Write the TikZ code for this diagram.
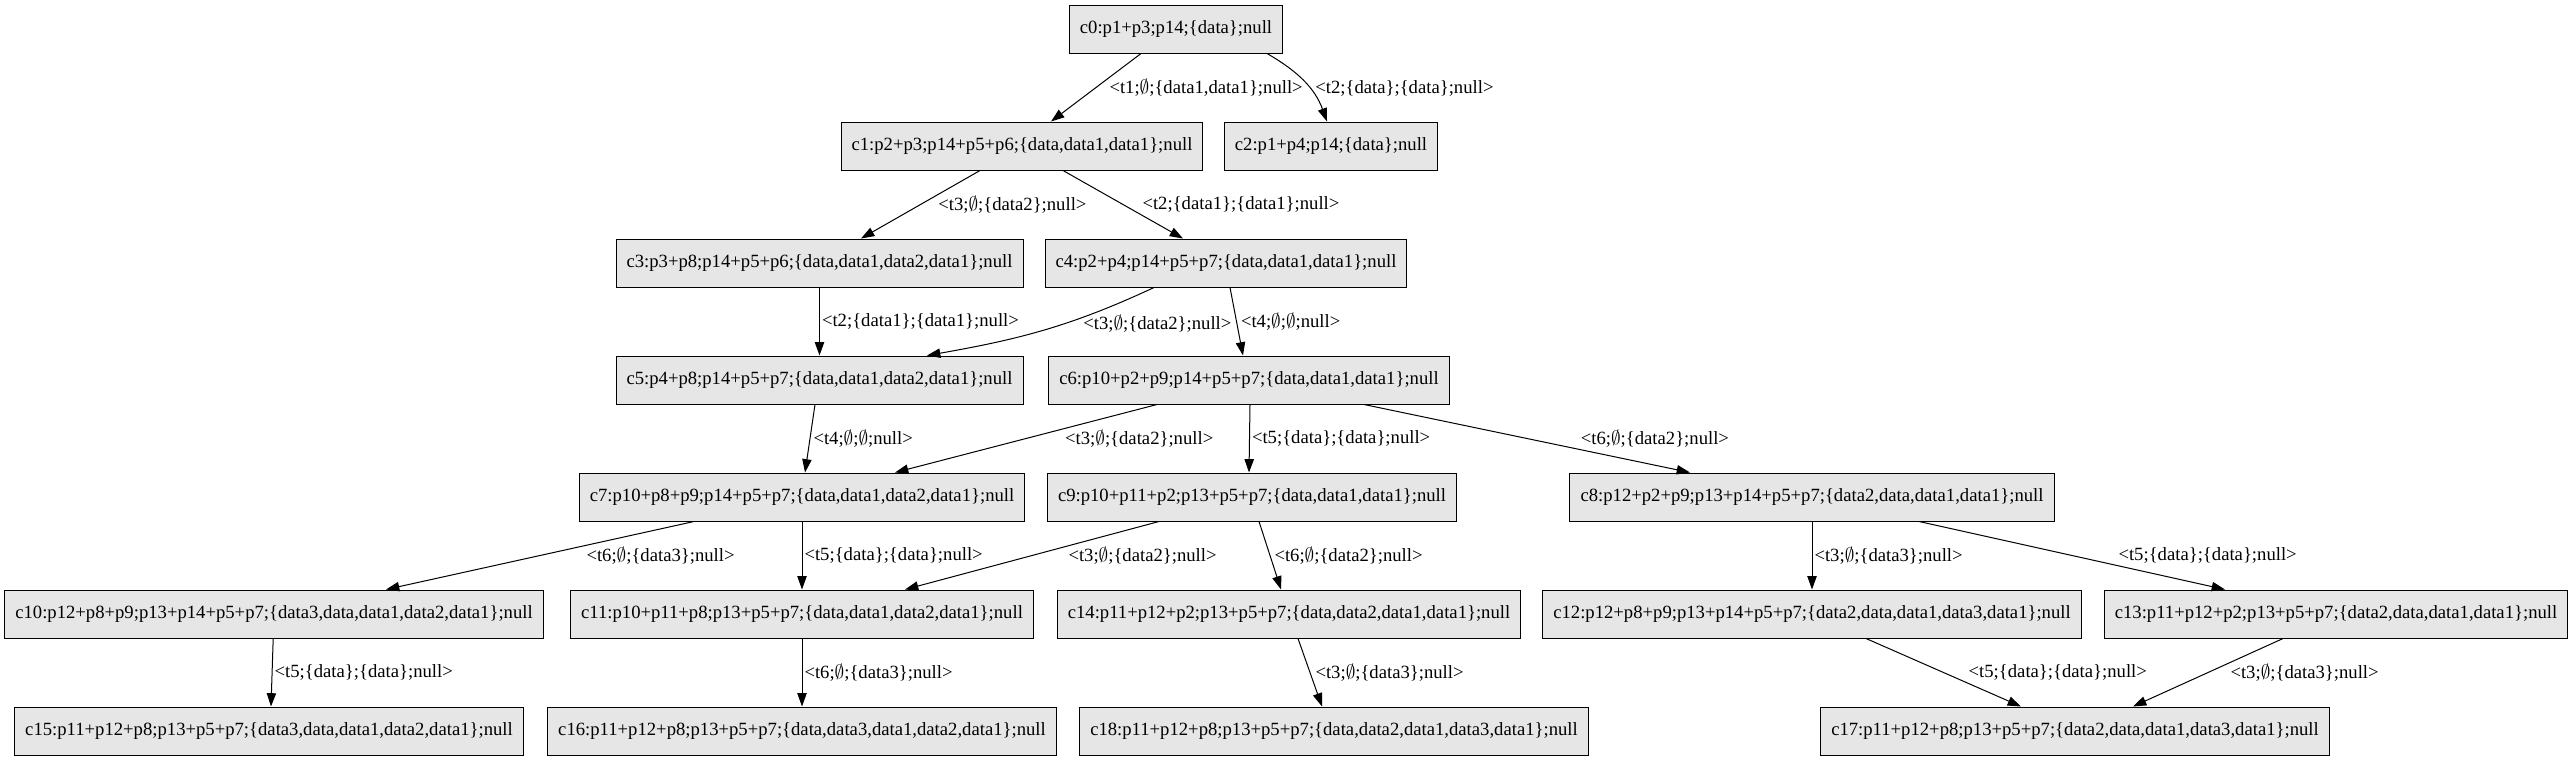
\documentclass[tikz,border=0pt]{standalone}
\usepackage{fontspec}
\setmainfont{Liberation Serif}
\usepackage{tikz}
\usetikzlibrary{arrows.meta,calc,positioning}
\definecolor{cfgfill}{RGB}{230,230,230}
\newcommand{\es}{$\emptyset$}
\tikzset{
  cfgbox/.style={rectangle,draw=black,line width=0.75pt,fill=cfgfill,
    minimum height=36pt,inner xsep=7.9pt,inner ysep=0pt,
    font=\fontsize{14}{16}\selectfont},
  firing/.style={-{Triangle[length=10pt,width=7pt]},line width=0.75pt,black},
  firelabel/.style={font=\fontsize{14}{16}\selectfont,inner sep=0pt}
}
\begin{document}
\begin{tikzpicture}[x=0.75pt,y=-0.75pt]
  \useasboundingbox (0,0) rectangle (2573,761);
  \node[cfgbox] (c0) at (1176,29) {c0:p1+p3;p14;\{data\};null};
  \node[cfgbox] (c1) at (1022,146) {c1:p2+p3;p14+p5+p6;\{data,data1,data1\};null};
  \node[cfgbox] (c2) at (1331,146) {c2:p1+p4;p14;\{data\};null};
  \node[cfgbox] (c3) at (819.5,263) {c3:p3+p8;p14+p5+p6;\{data,data1,data2,data1\};null};
  \node[cfgbox] (c4) at (1226,263) {c4:p2+p4;p14+p5+p7;\{data,data1,data1\};null};
  \node[cfgbox] (c5) at (819.5,380) {c5:p4+p8;p14+p5+p7;\{data,data1,data2,data1\};null};
  \node[cfgbox] (c6) at (1249,380) {c6:p10+p2+p9;p14+p5+p7;\{data,data1,data1\};null};
  \node[cfgbox] (c7) at (802,497) {c7:p10+p8+p9;p14+p5+p7;\{data,data1,data2,data1\};null};
  \node[cfgbox] (c9) at (1252,497) {c9:p10+p11+p2;p13+p5+p7;\{data,data1,data1\};null};
  \node[cfgbox] (c8) at (1812,497) {c8:p12+p2+p9;p13+p14+p5+p7;\{data2,data,data1,data1\};null};
  \node[cfgbox] (c10) at (274,614) {c10:p12+p8+p9;p13+p14+p5+p7;\{data3,data,data1,data2,data1\};null};
  \node[cfgbox] (c11) at (802,614) {c11:p10+p11+p8;p13+p5+p7;\{data,data1,data2,data1\};null};
  \node[cfgbox] (c14) at (1289,614) {c14:p11+p12+p2;p13+p5+p7;\{data,data2,data1,data1\};null};
  \node[cfgbox] (c12) at (1812,614) {c12:p12+p8+p9;p13+p14+p5+p7;\{data2,data,data1,data3,data1\};null};
  \node[cfgbox] (c13) at (2336,614) {c13:p11+p12+p2;p13+p5+p7;\{data2,data,data1,data1\};null};
  \node[cfgbox] (c15) at (269,731) {c15:p11+p12+p8;p13+p5+p7;\{data3,data,data1,data2,data1\};null};
  \node[cfgbox] (c16) at (802,731) {c16:p11+p12+p8;p13+p5+p7;\{data,data3,data1,data2,data1\};null};
  \node[cfgbox] (c18) at (1334,731) {c18:p11+p12+p8;p13+p5+p7;\{data,data2,data1,data3,data1\};null};
  \node[cfgbox] (c17) at (2075,731) {c17:p11+p12+p8;p13+p5+p7;\{data2,data,data1,data3,data1\};null};

  \draw[firing] ($(c0.south)+(-35,0)$) -- node[firelabel,right=9.75pt] {<t1;\es;\{data1,data1\};null>} ($(c1.north)+(29,0)$);
  \draw[firing] ($(c0.south)+(91,0)$) to[out=-30,in=110] node[firelabel,pos=0.6,right=4pt] {<t2;\{data\};\{data\};null>} ($(c2.north)+(-4,0)$);
  \draw[firing] ($(c1.south)+(-42,0)$) -- node[firelabel,right=13pt] {<t3;\es;\{data2\};null>} ($(c3.north)+(41.5,0)$);
  \draw[firing] ($(c1.south)+(41,0)$) -- node[firelabel,right=14.25pt] {<t2;\{data1\};\{data1\};null>} ($(c4.north)+(-43,0)$);
  \draw[firing] (c3) -- node[firelabel,right=1.5pt] {<t2;\{data1\};\{data1\};null>} (c5);
  \draw[firing] ($(c4.south)+(-72,0)$) to[out=205,in=10] node[firelabel,pos=0.4,right=14pt] {<t3;\es;\{data2\};null>} ($(c5.north)+(107.5,0)$);
  \draw[firing] ($(c4.south)+(4,0)$) -- node[firelabel,right=3pt] {<t4;\es;\es;null>} ($(c6.north)+(-6,0)$);
  \draw[firing] ($(c5.south)+(-4.5,0)$) -- node[firelabel,right=2.25pt] {<t4;\es;\es;null>} ($(c7.north)+(3,0)$);
  \draw[firing] ($(c6.south)+(-92,0)$) -- node[firelabel,right=29pt] {<t3;\es;\{data2\};null>} ($(c7.north)+(93,0)$);
  \draw[firing] ($(c6.south)+(1,0)$) -- node[firelabel,right=1.5pt] {<t5;\{data\};\{data\};null>} ($(c9.north)+(-3,0)$);
  \draw[firing] ($(c6.south)+(115,0)$) -- node[firelabel,right=40pt] {<t6;\es;\{data2\};null>} ($(c8.north)+(-122,0)$);
  \draw[firing] ($(c7.south)+(-108,0)$) -- node[firelabel,right=34.5pt] {<t6;\es;\{data3\};null>} ($(c10.north)+(112,0)$);
  \draw[firing] (c7) -- node[firelabel,right=1.5pt] {<t5;\{data\};\{data\};null>} (c11);
  \draw[firing] ($(c9.south)+(-93,0)$) -- node[firelabel,right=27pt] {<t3;\es;\{data2\};null>} ($(c11.north)+(103,0)$);
  \draw[firing] ($(c9.south)+(7,0)$) -- node[firelabel,right=3pt] {<t6;\es;\{data2\};null>} ($(c14.north)+(-8,0)$);
  \draw[firing] (c8) -- node[firelabel,right=1.5pt] {<t3;\es;\{data3\};null>} (c12);
  \draw[firing] ($(c8.south)+(107,0)$) -- node[firelabel,right=34.5pt] {<t5;\{data\};\{data\};null>} ($(c13.north)+(-111,0)$);
  \draw[firing] (c10) -- node[firelabel,right=1.5pt] {<t5;\{data\};\{data\};null>} ($(c15.north)+(2,0)$);
  \draw[firing] (c11) -- node[firelabel,right=1.5pt] {<t6;\es;\{data3\};null>} (c16);
  \draw[firing] ($(c14.south)+(9,0)$) -- node[firelabel,right=3.75pt] {<t3;\es;\{data3\};null>} ($(c18.north)+(-12,0)$);
  \draw[firing] ($(c12.south)+(54,0)$) -- node[firelabel,right=18.5pt] {<t5;\{data\};\{data\};null>} ($(c17.north)+(-54,0)$);
  \draw[firing] ($(c13.south)+(-53,0)$) -- node[firelabel,right=16.5pt] {<t3;\es;\{data3\};null>} ($(c17.north)+(58,0)$);
\end{tikzpicture}
\end{document}
